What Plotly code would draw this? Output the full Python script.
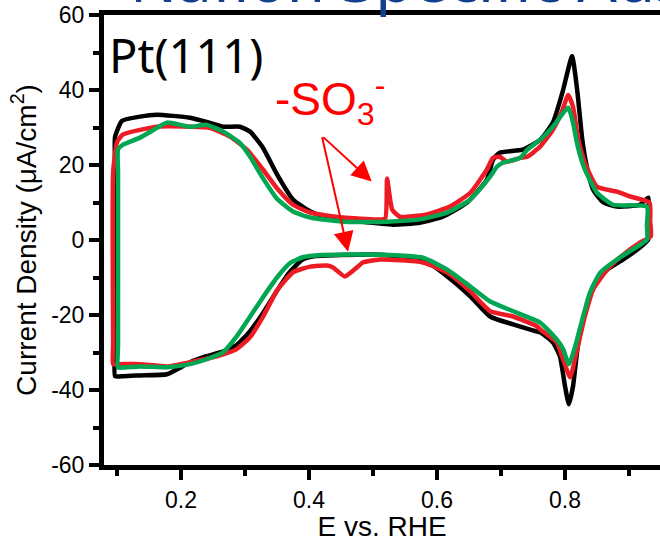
import plotly.graph_objects as go

# ---------------- data ----------------
E_black = [0.097, 0.097, 0.097, 0.097, 0.108, 0.136, 0.1625, 0.1875, 0.214, 0.240, 0.266, 0.292, 0.308,
           0.328, 0.350, 0.375, 0.402, 0.428, 0.480, 0.531, 0.573, 0.609, 0.647, 0.678, 0.6875, 0.698,
           0.734, 0.761, 0.781, 0.797, 0.811, 0.819, 0.827, 0.834, 0.844, 0.860, 0.881, 0.917, 0.930,
           0.930, 0.930, 0.917, 0.891, 0.866, 0.844, 0.831, 0.820, 0.8125, 0.806, 0.800, 0.792, 0.781,
           0.761, 0.756, 0.719, 0.683, 0.652, 0.616, 0.578, 0.511, 0.450, 0.410, 0.390, 0.370, 0.350,
           0.328, 0.308, 0.287, 0.266, 0.240, 0.214, 0.178, 0.136, 0.110, 0.097]
J_black = [-36.3, -30.0, 20.0, 27.5, 31.8, 32.9, 33.4, 33.1, 32.6, 31.5, 30.2, 30.2, 28.9,
           24.6, 17.5, 10.8, 7.6, 6.0, 4.9, 4.1, 4.6, 6.2, 10.0, 16.1, 21.4, 23.3,
           24.1, 26.7, 31.3, 40.0, 49.0, 40.0, 26.7, 19.6, 13.4, 10.0, 8.9, 9.4, 11.3,
           5.0, 0.1, -2.0, -5.2, -7.9, -12.4, -19.3, -28.3, -39.0, -43.8, -39.0, -31.0, -27.3,
           -24.6, -24.4, -22.5, -20.4, -15.0, -9.7, -5.2, -3.9, -4.0, -4.3, -5.2, -8.5, -13.5,
           -19.5, -24.3, -28.0, -29.7, -31.0, -32.6, -35.8, -36.1, -36.3, -36.3]

E_red = [0.094, 0.094, 0.094, 0.100, 0.109, 0.1625, 0.214, 0.245, 0.277, 0.303, 0.328, 0.350, 0.375,
         0.402, 0.453, 0.506, 0.519, 0.522, 0.530, 0.542, 0.584, 0.620, 0.652, 0.678, 0.6875, 0.698,
         0.709, 0.730, 0.741, 0.761, 0.781, 0.795, 0.805, 0.8125, 0.820, 0.831, 0.850, 0.881, 0.902,
         0.932, 0.933, 0.934, 0.917, 0.891, 0.866, 0.844, 0.831, 0.819, 0.808, 0.797, 0.787, 0.761,
         0.756, 0.719, 0.683, 0.652, 0.616, 0.578, 0.511, 0.484, 0.475, 0.456, 0.4375, 0.428, 0.402,
         0.375, 0.350, 0.328, 0.308, 0.287, 0.256, 0.214, 0.178, 0.136, 0.105, 0.094]
J_red = [-33.1, -28.0, 18.0, 26.0, 28.1, 30.2, 30.2, 29.9, 27.5, 24.1, 18.8, 13.8, 9.4,
         7.3, 6.0, 5.5, 5.7, 16.4, 8.1, 6.2, 6.8, 8.9, 12.6, 18.8, 21.9, 22.2,
         20.9, 21.9, 22.2, 24.9, 29.4, 34.2, 38.7, 35.5, 27.5, 20.6, 14.2, 12.9, 11.6,
         10.0, 5.0, 1.0, -0.7, -3.9, -7.9, -13.2, -20.4, -29.1, -36.6, -31.8, -27.3, -23.8,
         -23.0, -20.4, -19.0, -13.7, -8.7, -6.0, -5.2, -6.0, -7.3, -9.7, -7.3, -6.8, -7.1,
         -8.6, -13.5, -20.5, -25.9, -29.1, -31.0, -32.6, -33.7, -33.1, -33.1, -33.1]

E_green = [0.1016, 0.1016, 0.1016, 0.1016, 0.109, 0.136, 0.1625, 0.178, 0.214, 0.240, 0.266, 0.292,
           0.308, 0.328, 0.350, 0.375, 0.402, 0.453, 0.522, 0.573, 0.616, 0.652, 0.683, 0.694, 0.703,
           0.730, 0.741, 0.761, 0.781, 0.805, 0.8125, 0.820, 0.831, 0.850, 0.875, 0.928, 0.928, 0.928,
           0.906, 0.881, 0.855, 0.839, 0.827, 0.816, 0.806, 0.797, 0.787, 0.761, 0.719, 0.683, 0.652,
           0.616, 0.578, 0.511, 0.420, 0.390, 0.370, 0.350, 0.328, 0.308, 0.287, 0.266, 0.240, 0.214,
           0.178, 0.136, 0.110, 0.1016]
J_green = [-34.0, -28.0, 18.0, 24.1, 25.4, 27.3, 29.9, 31.3, 30.2, 30.7, 28.9, 25.9,
           22.2, 16.5, 11.0, 7.6, 6.0, 4.9, 4.9, 5.5, 7.3, 10.8, 16.9, 19.6, 20.6,
           21.9, 24.1, 26.7, 30.2, 35.3, 31.3, 24.9, 18.8, 12.6, 9.4, 8.9, 4.0, 0.1,
           -2.5, -5.2, -8.7, -14.0, -21.2, -28.3, -33.1, -29.1, -26.5, -22.0, -19.0, -16.4, -12.4,
           -7.9, -4.7, -3.9, -4.0, -4.6, -6.2, -10.0, -15.3, -20.4, -25.7, -29.9, -31.8, -33.1,
           -33.9, -33.7, -34.0, -34.0]

x_tick_vals = [0.2, 0.4, 0.6, 0.8]
x_tick_text = ["0.2", "0.4", "0.6", "0.8"]
x_minor_vals = [0.1, 0.3, 0.5, 0.7, 0.9]
y_tick_vals = [-60, -40, -20, 0, 20, 40, 60]
y_tick_text = ["-60", "-40", "-20", "0", "20", "40", "60"]
y_minor_vals = [-50, -30, -10, 10, 30, 50]

# arrow tail and tips (data units)
arrow_tail = (0.420, 27.8)
arrow_tips = [(0.498, 15.6), (0.461, -3.1)]

# ---------------- figure ----------------
fig = go.Figure()
for E, J, col in [(E_black, J_black, "#000000"),
                  (E_red, J_red, "#ED1C24"),
                  (E_green, J_green, "#00A651")]:
    fig.add_trace(go.Scatter(x=E, y=J, mode="lines",
                             line=dict(color=col, width=4.5, shape="spline", smoothing=0.5),
                             hoverinfo="skip", showlegend=False))

tickfont = dict(family="Liberation Sans, Arial, sans-serif", size=23, color="black")
titlefont = dict(family="Liberation Sans, Arial, sans-serif", size=28, color="black")

fig.update_layout(
    width=660, height=542,
    margin=dict(l=104, r=0, t=15, b=75),
    paper_bgcolor="white", plot_bgcolor="white",
    showlegend=False,
    xaxis=dict(range=[0.0797, 0.9484], tickmode="array", tickvals=x_tick_vals, ticktext=x_tick_text,
               ticks="outside", ticklen=10, tickwidth=4, tickcolor="black",
               showline=True, linewidth=5, linecolor="black", mirror=True,
               showgrid=False, zeroline=False, tickfont=tickfont,
               minor=dict(tickmode="array", tickvals=x_minor_vals, ticks="outside",
                          ticklen=6, tickwidth=4, tickcolor="black", showgrid=False),
               title=dict(text="E vs. RHE", font=titlefont, standoff=10)),
    yaxis=dict(range=[-60, 60], tickmode="array", tickvals=y_tick_vals, ticktext=y_tick_text,
               ticks="outside", ticklen=10, tickwidth=4, tickcolor="black",
               showline=True, linewidth=5, linecolor="black", mirror=False,
               showgrid=False, zeroline=False, tickfont=tickfont,
               minor=dict(tickmode="array", tickvals=y_minor_vals, ticks="outside",
                          ticklen=6, tickwidth=4, tickcolor="black", showgrid=False),
               title=dict(text="Current Density (μA/cm<sup>2</sup>)", font=titlefont, standoff=8)),
)

annotations = [
    dict(text="Nafion Specific Adsorption", xref="paper", yref="paper",
         x=(128 - 104) / 556, xanchor="left", y=0.98, yshift=2, yanchor="bottom",
         showarrow=False, font=dict(family="Noto Sans", size=62, color="#123F8E")),
    dict(text="Pt(111)", xref="paper", yref="paper",
         x=(107 - 104) / 556, xanchor="left", y=0.912, yanchor="middle",
         showarrow=False, font=dict(family="Noto Sans", size=47, color="black")),
    dict(text="-SO<sub>3</sub><sup>-</sup>", xref="x", yref="y",
         x=0.433, y=37.5, xanchor="center", yanchor="middle",
         showarrow=False, font=dict(family="Liberation Sans, Arial", size=46, color="#FF0000")),
]
for tip in arrow_tips:
    annotations.append(dict(text="", x=tip[0], y=tip[1], xref="x", yref="y",
                            ax=arrow_tail[0], ay=arrow_tail[1], axref="x", ayref="y",
                            showarrow=True, arrowhead=2, arrowsize=2.0, arrowwidth=2,
                            arrowcolor="#FF0000", standoff=0))
fig.update_layout(annotations=annotations)

fig.write_html("out.html", config={"displayModeBar": False},
               post_script="document.body.style.margin='0';")
